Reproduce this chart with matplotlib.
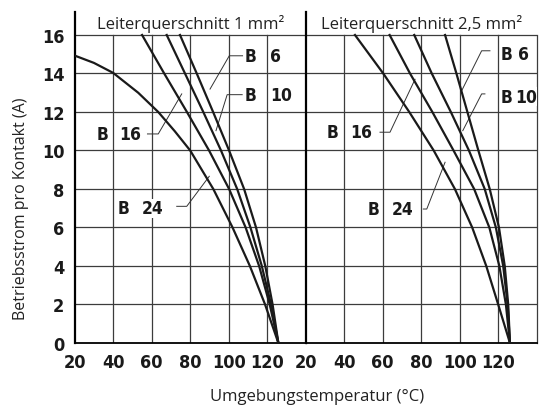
import numpy as np
import matplotlib
matplotlib.use("Agg")
import matplotlib.pyplot as plt
from matplotlib import font_manager

## curve data: ambient temperature (°C) at given contact current (A)
current = [16, 14, 12, 10, 8, 6, 4, 2, 0]

# conductor cross-section 1 mm²
b6_1mm = [74.7, 83.4, 91.9, 100.2, 108.0, 114.2, 119.0, 122.8, 125.8]
b10_1mm = [67.8, 77.3, 86.8, 96.0, 104.4, 111.3, 117.2, 122.0, 125.8]
b16_1mm = [55.0, 66.5, 78.3, 89.8, 100.2, 108.8, 115.8, 121.3, 125.8]
b24_1mm_temp = [20, 30, 40, 53, 63.4, 72, 80, 92, 102, 111, 118.9, 125.8]
b24_1mm_curr = [14.93, 14.55, 14.03, 13, 12, 11, 10, 8, 6, 4, 2, 0]

# conductor cross-section 2,5 mm²
b6_25mm = [92.4, 98.3, 104.0, 109.7, 115.6, 120.4, 123.4, 125.2, 126.1]
b10_25mm = [76.4, 85.5, 95.4, 104.8, 113.0, 118.8, 122.6, 124.9, 126.1]
b16_25mm = [63.6, 74.2, 85.8, 96.8, 107.5, 115.4, 120.6, 124.0, 126.1]
b24_25mm = [45.6, 60.3, 73.8, 86.5, 97.5, 106.5, 113.8, 120.0, 126.1]

titles = ["Leiterquerschnitt 1 mm²", "Leiterquerschnitt 2,5 mm²"]
x_ticks = [20, 40, 60, 80, 100, 120]
y_ticks = [0, 2, 4, 6, 8, 10, 12, 14, 16]

# label: (prefix, number, B x, number x, y, leader points)
labels_1mm = [
    ("B", "6", 108.5, 121.6, 14.9, [(107.2, 14.92), (100.3, 14.92), (90.3, 13.19)]),
    ("B", "10", 108.5, 121.4, 12.9, [(107.0, 12.9), (99.2, 12.9), (93.4, 11.03)]),
    ("B", "16", 31.6, 43.0, 10.86, [(57.8, 10.86), (63.4, 10.86), (75.6, 12.94)]),
    ("B", "24", 42.5, 55.0, 7.0, [(73.0, 7.1), (78.2, 7.1), (89.9, 8.66)]),
]
labels_25mm = [
    ("B", "6", 121.0, 130.4, 15.0, [(115.7, 15.18), (111.4, 15.18), (101.0, 13.1)]),
    ("B", "10", 121.0, 128.6, 12.8, [(113.1, 12.94), (111.4, 12.94), (101.6, 11.03)]),
    ("B", "16", 31.0, 43.0, 10.95, [(58.6, 10.95), (63.8, 10.95), (76.8, 13.7)]),
    ("B", "24", 52.4, 64.7, 6.96, [(81.1, 6.96), (82.9, 6.96), (92.4, 9.39)]),
]


def narrow_bold_font(size):
    """Pick an installed condensed bold face for the numbers, if any."""
    best = None
    for f in font_manager.fontManager.ttflist:
        narrow = ("Condensed" in f.name or "Narrow" in f.name
                  or str(f.stretch) in ("condensed", "semi-condensed", "75", "87"))
        if not narrow:
            continue
        w = f.weight if isinstance(f.weight, int) else 400
        score = -abs(w - 700)
        if best is None or score > best[0]:
            best = (score, f.fname)
    if best is not None:
        return font_manager.FontProperties(fname=best[1], size=size)
    return font_manager.FontProperties(family="Liberation Sans", weight="bold",
                                       size=size - 1)


tick_fp = narrow_bold_font(13)
label_fp = narrow_bold_font(12.5)
text_font = ["Open Sans", "DejaVu Sans"]

fig = plt.figure(figsize=(5.41, 4.06), dpi=100)
W, H = 541, 406
ax_l = fig.add_axes([74.7 / W, 1 - 344 / H, 231 / W, 331.3 / H])
ax_r = fig.add_axes([305.7 / W, 1 - 344 / H, 231 / W, 331.3 / H])

grid_col = "#3c3c3c"

for ax, title in zip([ax_l, ax_r], titles):
    ax.set_xlim(20, 140)
    ax.set_ylim(0, 17.21)
    ax.set_xticks(x_ticks)
    ax.set_yticks(y_ticks)
    for y in y_ticks[1:]:
        ax.axhline(y, color=grid_col, lw=0.9, zorder=1)
    for x in x_ticks[1:]:
        ax.plot([x, x], [0, 16], color=grid_col, lw=0.9, zorder=1)
    ax.plot([140, 140], [0, 16], color=grid_col, lw=0.9, zorder=1, clip_on=False)
    for s in ["top", "right"]:
        ax.spines[s].set_visible(False)
    ax.spines["left"].set_linewidth(1.6)
    ax.spines["bottom"].set_linewidth(1.3)
    ax.tick_params(length=0, pad=7.5)
    ax.text(80, 16.62, title, ha="center", va="center", fontsize=12,
            family=text_font, color="#222222")
    for lab in ax.get_xticklabels() + ax.get_yticklabels():
        lab.set_fontproperties(tick_fp)
        lab.set_color("#1a1a1a")

ax_r.tick_params(axis="y", left=False, labelleft=False)

# curves
for temps in [b6_1mm, b10_1mm, b16_1mm]:
    ax_l.plot(temps, current, color="#1a1a1a", lw=1.6, zorder=3,
              solid_joinstyle="round")
ax_l.plot(b24_1mm_temp, b24_1mm_curr, color="#1a1a1a", lw=1.6, zorder=3,
          solid_joinstyle="round")
for temps in [b6_25mm, b10_25mm, b16_25mm, b24_25mm]:
    ax_r.plot(temps, current, color="#1a1a1a", lw=1.6, zorder=3,
              solid_joinstyle="round")

# curve labels with leader lines
for ax, labels in [(ax_l, labels_1mm), (ax_r, labels_25mm)]:
    for pre, num, xb, xn, y, leader in labels:
        box = dict(facecolor="white", edgecolor="none", pad=0.4)
        ax.text(xb, y, pre, ha="left", va="center", fontproperties=label_fp,
                color="#1a1a1a", bbox=box, zorder=4)
        ax.text(xn, y, num, ha="left", va="center", fontproperties=label_fp,
                color="#1a1a1a", bbox=box, zorder=4)
        lx, ly = zip(*leader)
        ax.plot(lx, ly, color="#333333", lw=0.7, zorder=2)

fig.text(316.7 / W, 1 - 397 / H, "Umgebungstemperatur (°C)", ha="center",
         va="center", fontsize=12, family=text_font, color="#222222")
fig.text(21.5 / W, 1 - 209 / H, "Betriebsstrom pro Kontakt (A)", ha="center",
         va="center", rotation=90, fontsize=11.5, family=text_font,
         color="#222222")

fig.savefig("out.png", dpi=100)
